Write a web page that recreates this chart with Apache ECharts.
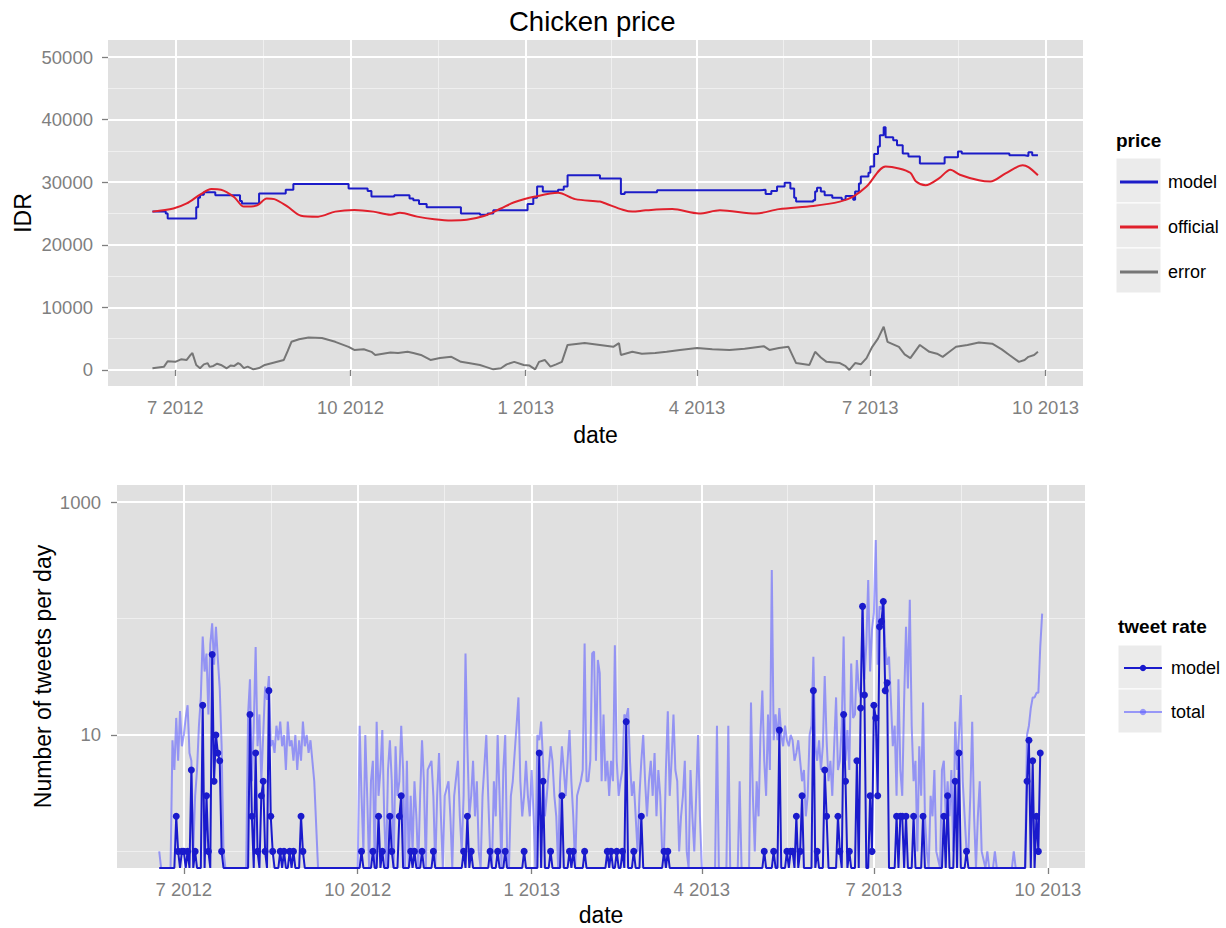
<!DOCTYPE html>
<html>
<head>
<meta charset="utf-8">
<script src="https://cdn.jsdelivr.net/npm/echarts@6/dist/echarts.min.js"></script>
<style>
html,body{margin:0;padding:0;background:#ffffff;}
#chart{width:1226px;height:928px;}
</style>
</head>
<body>
<div id="chart"></div>
<script>
// ---------------- data ----------------
const quarterBreaks = ['2012-07-01','2012-10-01','2013-01-01','2013-04-01','2013-07-01','2013-10-01'];
const quarterMinorBreaks = ['2012-08-16','2012-11-16','2013-02-15','2013-05-16','2013-08-16'];
const priceTicks = [0, 10000, 20000, 30000, 40000, 50000];
const priceMinorTicks = [5000, 15000, 25000, 35000, 45000];
const tweetTicks = [10, 1000];
const tweetMinorTicks = [1, 100];
const priceLegend = ['model', 'official', 'error'];
const tweetLegend = ['model', 'total'];

// model price (step changes: new level from the given date)
const modelPrice = [
['2012-06-19',25300],['2012-06-26',25000],['2012-06-27',24200],['2012-07-12',26000],['2012-07-13',27500],
['2012-07-14',28000],['2012-07-16',28400],['2012-07-22',27900],['2012-08-04',27000],['2012-08-05',26600],
['2012-08-14',28200],['2012-08-28',28800],['2012-09-01',29700],['2012-09-30',29000],['2012-10-10',28600],
['2012-10-12',27700],['2012-10-24',27900],['2012-11-01',27400],['2012-11-03',27100],['2012-11-06',26500],
['2012-11-10',26000],['2012-11-28',25000],['2012-12-08',24800],['2012-12-12',25000],['2012-12-15',25500],
['2013-01-02',26500],['2013-01-05',27500],['2013-01-07',29300],['2013-01-10',28500],['2013-01-18',28800],
['2013-01-21',29300],['2013-01-23',31100],['2013-02-09',30600],['2013-02-20',28100],['2013-02-22',28400],
['2013-03-11',28700],['2013-05-04',28800],['2013-05-07',28100],['2013-05-10',28600],['2013-05-13',29300],
['2013-05-17',29900],['2013-05-20',29000],['2013-05-22',27500],['2013-05-23',26900],['2013-06-01',27100],
['2013-06-02',28500],['2013-06-03',29100],['2013-06-05',28500],['2013-06-07',27900],['2013-06-11',27500],
['2013-06-16',27200],['2013-06-18',27800],['2013-06-22',27200],['2013-06-23',28500],['2013-06-25',29800],
['2013-06-26',30900],['2013-06-30',31500],['2013-07-01',32500],['2013-07-03',34500],['2013-07-05',35700],
['2013-07-06',37500],['2013-07-08',38800],['2013-07-09',37200],['2013-07-13',36700],['2013-07-15',35900],
['2013-07-18',34600],['2013-07-21',34100],['2013-07-27',33000],['2013-08-09',34000],['2013-08-16',34900],
['2013-08-18',34600],['2013-09-12',34300],['2013-09-20',34200],['2013-09-22',34800],['2013-09-24',34300],
['2013-09-27',34400]
];

const officialPrice = [
['2012-06-19',25300],['2012-06-30',25800],['2012-07-07',26600],['2012-07-14',28000],['2012-07-20',28900],
['2012-07-25',28800],['2012-08-01',27600],['2012-08-06',26100],['2012-08-13',26300],['2012-08-18',27400],
['2012-08-22',27300],['2012-08-29',26100],['2012-09-05',24650],['2012-09-14',24500],['2012-09-23',25300],
['2012-10-03',25560],['2012-10-13',25300],['2012-10-22',24800],['2012-10-27',25100],['2012-11-05',24500],
['2012-11-14',24100],['2012-11-23',23900],['2012-12-01',24000],['2012-12-10',24600],['2012-12-19',25800],
['2012-12-26',26800],['2013-01-06',27700],['2013-01-18',28300],['2013-01-27',27300],['2013-02-09',26900],
['2013-02-12',26600],['2013-02-21',25600],['2013-02-26',25300],['2013-03-05',25500],['2013-03-19',25700],
['2013-04-02',25000],['2013-04-13',25500],['2013-05-02',25000],['2013-05-14',25700],['2013-06-01',26200],
['2013-06-15',26900],['2013-06-22',27700],['2013-06-29',29300],['2013-07-09',32500],['2013-07-16',32200],
['2013-07-22',31500],['2013-07-25',30100],['2013-07-30',29500],['2013-08-06',30600],['2013-08-12',32000],
['2013-08-17',31200],['2013-08-27',30300],['2013-09-02',30100],['2013-09-10',31400],['2013-09-19',32700],
['2013-09-22',32400],['2013-09-27',31100]
];

const errorPrice = [
['2012-06-19',270],['2012-06-25',500],['2012-06-27',1400],['2012-07-01',1300],['2012-07-04',1700],
['2012-07-07',1600],['2012-07-09',2400],['2012-07-10',2700],['2012-07-12',800],['2012-07-14',270],
['2012-07-16',900],['2012-07-18',1100],['2012-07-19',500],['2012-07-21',650],['2012-07-23',1000],
['2012-07-25',800],['2012-07-28',270],['2012-07-30',700],['2012-08-01',650],['2012-08-03',1100],
['2012-08-04',950],['2012-08-06',300],['2012-08-08',530],['2012-08-11',100],['2012-08-14',300],
['2012-08-17',800],['2012-08-22',1200],['2012-08-27',1600],['2012-08-29',3000],['2012-08-31',4500],
['2012-09-04',4900],['2012-09-09',5200],['2012-09-16',5100],['2012-09-23',4500],['2012-09-30',3700],
['2012-10-03',3200],['2012-10-08',3300],['2012-10-12',2900],['2012-10-14',2400],['2012-10-18',2600],
['2012-10-22',2800],['2012-10-26',2700],['2012-10-31',2900],['2012-11-03',2700],['2012-11-07',2400],
['2012-11-12',1600],['2012-11-17',1900],['2012-11-23',2100],['2012-11-28',1300],['2012-12-02',1100],
['2012-12-08',800],['2012-12-11',500],['2012-12-15',100],['2012-12-19',270],['2012-12-22',900],
['2012-12-26',1300],['2012-12-31',800],['2013-01-03',700],['2013-01-06',100],['2013-01-08',1300],
['2013-01-11',1600],['2013-01-14',530],['2013-01-17',900],['2013-01-20',1300],['2013-01-23',4000],
['2013-02-01',4300],['2013-02-09',4000],['2013-02-16',3700],['2013-02-19',4300],['2013-02-20',2400],
['2013-02-26',2900],['2013-03-03',2600],['2013-03-10',2700],['2013-03-16',2900],['2013-03-23',3200],
['2013-04-01',3500],['2013-04-09',3300],['2013-04-18',3200],['2013-04-26',3400],['2013-05-06',3800],
['2013-05-09',3200],['2013-05-14',3500],['2013-05-19',3700],['2013-05-23',1100],['2013-05-30',800],
['2013-06-02',2900],['2013-06-05',2000],['2013-06-08',1300],['2013-06-15',1100],['2013-06-18',600],
['2013-06-20',0],['2013-06-23',1100],['2013-06-26',900],['2013-06-29',1900],['2013-07-02',3700],
['2013-07-05',5000],['2013-07-08',6900],['2013-07-10',4500],['2013-07-13',4100],['2013-07-16',3700],
['2013-07-19',2500],['2013-07-22',1900],['2013-07-27',4000],['2013-08-01',2900],['2013-08-05',2600],
['2013-08-08',2100],['2013-08-11',2800],['2013-08-15',3700],['2013-08-21',4000],['2013-08-27',4400],
['2013-09-03',4200],['2013-09-08',3300],['2013-09-12',2400],['2013-09-17',1300],['2013-09-20',1600],
['2013-09-22',2100],['2013-09-25',2400],['2013-09-27',2900]
];

// tweets per day, model: days with a non-zero count (all other days in the range are 0)
const tweetModelRange = ['2012-06-18', '2013-09-27'];
const tweetModelNonZero = [
['2012-06-27',2],['2012-06-28',1],['2012-06-30',1],['2012-07-01',1],['2012-07-03',1],['2012-07-05',5],
['2012-07-07',1],['2012-07-11',18],['2012-07-13',3],['2012-07-14',1],['2012-07-16',49],['2012-07-17',4],
['2012-07-18',10],['2012-07-19',7],['2012-07-20',6],['2012-07-21',1],
['2012-08-05',15],['2012-08-06',2],['2012-08-08',7],['2012-08-09',1],['2012-08-11',3],['2012-08-12',4],
['2012-08-13',1],['2012-08-15',24],['2012-08-16',2],['2012-08-17',1],['2012-08-21',1],['2012-08-23',1],
['2012-08-26',1],['2012-08-28',1],['2012-09-01',2],['2012-09-02',1],
['2012-10-03',1],['2012-10-09',1],['2012-10-12',2],['2012-10-14',1],['2012-10-18',2],['2012-10-19',1],
['2012-10-23',2],['2012-10-24',3],['2012-10-29',1],['2012-10-31',1],['2012-11-04',1],['2012-11-10',1],
['2012-11-26',1],['2012-11-28',2],['2012-11-30',1],['2012-12-10',1],['2012-12-14',1],['2012-12-18',1],
['2012-12-28',1],
['2013-01-05',7],['2013-01-07',4],['2013-01-11',1],['2013-01-17',3],['2013-01-21',1],['2013-01-23',1],
['2013-01-29',1],['2013-02-10',1],['2013-02-12',1],['2013-02-15',1],['2013-02-18',1],['2013-02-20',13],
['2013-02-24',1],['2013-02-28',2],['2013-03-12',1],['2013-03-14',1],
['2013-05-04',1],['2013-05-09',1],['2013-05-12',11],['2013-05-16',1],['2013-05-18',1],['2013-05-19',1],
['2013-05-21',2],['2013-05-23',1],['2013-05-24',3],['2013-05-30',24],['2013-06-01',1],['2013-06-05',5],
['2013-06-06',2],['2013-06-12',2],['2013-06-13',1],['2013-06-15',15],['2013-06-16',4],['2013-06-18',1],
['2013-06-22',6],['2013-06-24',17],['2013-06-25',127],['2013-06-26',22],['2013-06-29',3],['2013-06-30',1],
['2013-07-01',18],['2013-07-02',14],['2013-07-03',3],['2013-07-04',85],['2013-07-05',94],['2013-07-06',140],
['2013-07-07',24],['2013-07-08',28],['2013-07-13',2],['2013-07-15',2],['2013-07-16',2],['2013-07-18',2],
['2013-07-22',2],['2013-07-27',2],['2013-08-07',2],['2013-08-09',3],['2013-08-13',4],['2013-08-15',7],
['2013-08-19',1],['2013-09-20',4],['2013-09-21',9],['2013-09-23',6],['2013-09-25',2],['2013-09-26',1],
['2013-09-27',7]
];

// tweets per day, total
const tweetTotal = [
['2012-06-18',1],['2012-06-19',0],['2012-06-24',0],['2012-06-25',9],['2012-06-26',5],['2012-06-27',14],
['2012-06-28',6],['2012-06-29',16],['2012-06-30',8],['2012-07-01',10],['2012-07-02',14],['2012-07-03',18],
['2012-07-04',7],['2012-07-05',6],['2012-07-06',1],['2012-07-07',3],['2012-07-08',5],['2012-07-09',12],
['2012-07-10',21],['2012-07-11',70],['2012-07-12',35],['2012-07-13',50],['2012-07-14',15],['2012-07-15',60],
['2012-07-16',91],['2012-07-17',40],['2012-07-18',85],['2012-07-19',45],['2012-07-20',25],['2012-07-21',8],
['2012-07-22',1],['2012-07-23',0],['2012-08-03',0],['2012-08-04',15],['2012-08-05',30],['2012-08-06',4],
['2012-08-07',12],['2012-08-08',57],['2012-08-09',8],['2012-08-10',15],['2012-08-11',4],['2012-08-12',10],
['2012-08-13',26],['2012-08-14',20],['2012-08-15',32],['2012-08-16',8],['2012-08-17',9],['2012-08-18',7],
['2012-08-19',12],['2012-08-20',9],['2012-08-21',13],['2012-08-22',8],['2012-08-23',10],['2012-08-24',5],
['2012-08-25',13],['2012-08-26',8],['2012-08-27',9],['2012-08-28',6],['2012-08-29',10],['2012-08-30',5],
['2012-08-31',9],['2012-09-01',6],['2012-09-02',13],['2012-09-03',8],['2012-09-04',10],['2012-09-05',7],
['2012-09-06',9],['2012-09-07',6],['2012-09-08',4],['2012-09-10',0],['2012-10-01',0],
['2012-10-02',12],['2012-10-03',3],['2012-10-04',1],['2012-10-05',10],['2012-10-06',3],['2012-10-07',0],
['2012-10-08',4],['2012-10-09',6],['2012-10-10',0],['2012-10-11',13],['2012-10-12',3],['2012-10-13',5],
['2012-10-14',11],['2012-10-15',2],['2012-10-16',0],['2012-10-17',5],['2012-10-18',9],['2012-10-19',4],
['2012-10-20',0],['2012-10-21',8],['2012-10-22',3],['2012-10-23',4],['2012-10-24',12],['2012-10-25',5],
['2012-10-26',0],['2012-10-27',6],['2012-10-28',0],['2012-10-29',3],['2012-10-30',1],['2012-10-31',4],
['2012-11-01',2],['2012-11-02',0],['2012-11-03',3],['2012-11-04',9],['2012-11-05',4],['2012-11-06',0],
['2012-11-07',5],['2012-11-09',6],['2012-11-10',3],['2012-11-11',0],['2012-11-12',3],['2012-11-13',7],
['2012-11-14',2],['2012-11-15',0],['2012-11-16',3],['2012-11-18',4],['2012-11-19',2],['2012-11-20',0],
['2012-11-21',3],['2012-11-23',6],['2012-11-24',2],['2012-11-25',1],['2012-11-26',3],['2012-11-27',50],
['2012-11-28',8],['2012-11-29',2],['2012-11-30',3],['2012-12-01',6],['2012-12-02',2],['2012-12-03',4],
['2012-12-04',1],['2012-12-05',0],['2012-12-06',3],['2012-12-08',10],['2012-12-09',3],['2012-12-10',1],
['2012-12-11',0],['2012-12-12',4],['2012-12-13',2],['2012-12-14',10],['2012-12-15',3],['2012-12-16',0],
['2012-12-17',5],['2012-12-18',10],['2012-12-19',1],['2012-12-20',0],['2012-12-21',3],['2012-12-22',4],
['2012-12-23',7],['2012-12-24',12],['2012-12-25',21],['2012-12-26',4],['2012-12-27',2],['2012-12-28',3],
['2012-12-29',6],['2012-12-30',3],['2012-12-31',2],['2013-01-01',5],['2013-01-02',2],['2013-01-03',0],
['2013-01-04',10],['2013-01-05',9],['2013-01-06',13],['2013-01-07',6],['2013-01-08',2],['2013-01-09',3],
['2013-01-10',5],['2013-01-11',8],['2013-01-12',6],['2013-01-13',3],['2013-01-14',2],['2013-01-15',0],
['2013-01-16',4],['2013-01-17',8],['2013-01-18',5],['2013-01-19',3],['2013-01-20',6],['2013-01-21',11],
['2013-01-22',4],['2013-01-23',2],['2013-01-24',0],['2013-01-25',3],['2013-01-27',4],['2013-01-28',5],
['2013-01-29',61],['2013-01-30',4],['2013-01-31',4],['2013-02-01',6],['2013-02-02',50],['2013-02-03',52],
['2013-02-04',6],['2013-02-05',44],['2013-02-06',34],['2013-02-07',4],['2013-02-08',15],['2013-02-09',4],
['2013-02-10',6],['2013-02-11',3],['2013-02-12',6],['2013-02-13',4],['2013-02-14',59],['2013-02-15',6],
['2013-02-16',3],['2013-02-17',4],['2013-02-18',5],['2013-02-19',15],['2013-02-20',14],['2013-02-21',17],
['2013-02-22',6],['2013-02-23',3],['2013-02-24',4],['2013-02-25',2],['2013-02-26',1],['2013-02-27',3],
['2013-02-28',6],['2013-03-01',10],['2013-03-02',4],['2013-03-03',2],['2013-03-04',4],['2013-03-05',6],
['2013-03-06',3],['2013-03-07',7],['2013-03-08',2],['2013-03-09',5],['2013-03-10',3],['2013-03-11',1],
['2013-03-12',1],['2013-03-13',5],['2013-03-14',16],['2013-03-15',3],['2013-03-16',6],['2013-03-17',15],
['2013-03-18',5],['2013-03-19',4],['2013-03-20',1],['2013-03-21',2],['2013-03-22',3],['2013-03-23',6],
['2013-03-24',1],['2013-03-25',0],['2013-03-26',5],['2013-03-27',2],['2013-03-28',1],['2013-03-29',3],
['2013-03-30',10],['2013-03-31',2],['2013-04-01',0],['2013-04-08',0],['2013-04-09',12],['2013-04-10',0],
['2013-04-14',0],['2013-04-15',12],['2013-04-16',0],['2013-04-20',0],['2013-04-21',4],['2013-04-22',0],
['2013-04-26',0],['2013-04-27',19],['2013-04-28',3],['2013-04-29',1],['2013-04-30',4],['2013-05-01',2],
['2013-05-02',10],['2013-05-03',24],['2013-05-04',6],['2013-05-05',3],['2013-05-06',15],['2013-05-07',5],
['2013-05-08',261],['2013-05-09',9],['2013-05-10',15],['2013-05-11',9],['2013-05-12',17],['2013-05-13',10],
['2013-05-14',8],['2013-05-15',12],['2013-05-16',9],['2013-05-17',8],['2013-05-18',10],['2013-05-19',9],
['2013-05-20',6],['2013-05-21',7],['2013-05-22',9],['2013-05-23',6],['2013-05-24',4],['2013-05-25',5],
['2013-05-26',2],['2013-05-27',3],['2013-05-28',10],['2013-05-29',12],['2013-05-30',47],['2013-05-31',8],
['2013-06-01',6],['2013-06-02',9],['2013-06-03',5],['2013-06-04',8],['2013-06-05',32],['2013-06-06',9],
['2013-06-07',4],['2013-06-08',6],['2013-06-09',3],['2013-06-10',8],['2013-06-11',21],['2013-06-12',5],
['2013-06-13',6],['2013-06-14',12],['2013-06-15',70],['2013-06-16',6],['2013-06-17',11],['2013-06-18',5],
['2013-06-19',41],['2013-06-20',14],['2013-06-21',15],['2013-06-22',44],['2013-06-23',25],['2013-06-24',21],
['2013-06-25',130],['2013-06-26',30],['2013-06-27',60],['2013-06-28',214],['2013-06-29',35],['2013-06-30',80],
['2013-07-01',111],['2013-07-02',472],['2013-07-03',40],['2013-07-04',127],['2013-07-05',120],['2013-07-06',150],
['2013-07-07',57],['2013-07-08',40],['2013-07-09',47],['2013-07-10',20],['2013-07-11',8],['2013-07-12',12],
['2013-07-13',3],['2013-07-14',30],['2013-07-15',5],['2013-07-16',3],['2013-07-17',20],['2013-07-18',85],
['2013-07-19',25],['2013-07-20',145],['2013-07-21',12],['2013-07-22',4],['2013-07-23',6],['2013-07-24',1],
['2013-07-25',8],['2013-07-26',3],['2013-07-27',19],['2013-07-28',2],['2013-07-29',1],['2013-07-30',0],
['2013-07-31',3],['2013-08-01',2],['2013-08-02',5],['2013-08-03',1],['2013-08-05',0],['2013-08-06',5],
['2013-08-07',6],['2013-08-08',2],['2013-08-09',4],['2013-08-10',2],['2013-08-11',5],['2013-08-12',1],
['2013-08-13',13],['2013-08-14',5],['2013-08-15',10],['2013-08-16',22],['2013-08-17',4],['2013-08-18',2],
['2013-08-19',1],['2013-08-20',1],['2013-08-21',3],['2013-08-22',13],['2013-08-23',2],['2013-08-24',0],
['2013-08-25',2],['2013-08-26',4],['2013-08-27',1],['2013-08-29',0],['2013-08-30',1],['2013-08-31',0],
['2013-09-02',0],['2013-09-03',1],['2013-09-04',0],['2013-09-12',0],['2013-09-13',1],['2013-09-14',0],
['2013-09-19',0],['2013-09-20',10],['2013-09-21',12],['2013-09-22',17],['2013-09-23',21],['2013-09-24',21],
['2013-09-25',23],['2013-09-26',23],['2013-09-27',57],['2013-09-28',110]
];

// ---------------- helpers & styles ----------------
const FONT = '"Liberation Sans", Arial, Helvetica, sans-serif';
const PANEL = '#e0e0e0', MAJOR = '#ffffff', MINOR = '#efefef', TICKC = '#7f7f7f', LABELC = '#7f7f7f';
const COL_MODEL = '#1c1cc8', COL_OFFICIAL = '#e0202c', COL_ERROR = '#767676';
const COL_TMODEL = '#1a1acc', COL_TTOTAL = 'rgba(95,95,255,0.6)';

function toTime(s) { const p = s.split('-').map(Number); return new Date(p[0], p[1] - 1, p[2]).getTime(); }
const X_MIN = new Date(2012, 4, 26, 16).getTime();
const X_MAX = new Date(2013, 9, 20, 16).getTime();
const P_MIN = -2560, P_MAX = 52720;
const T_MIN = 0.72, T_MAX = 1400;   // log axis range; days with 0 tweets sit on the panel floor
const toPairs = arr => arr.map(([d, v]) => [toTime(d), v]);
const floorZero = arr => arr.map(([t, v]) => [t, v > 0 ? v : T_MIN]);

// expand sparse model counts into a daily series (unlisted days are 0)
function dailyFromSparse(range, sparse) {
  const map = {};
  sparse.forEach(([d, v]) => { map[toTime(d)] = v; });
  const out = [];
  const s = range[0].split('-').map(Number);
  const end = toTime(range[1]);
  for (let i = 0; ; i++) {
    const t = new Date(s[0], s[1] - 1, s[2] + i).getTime();
    if (t > end) break;
    out.push([t, map[t] || 0]);
  }
  return out;
}
const fmtQuarter = v => { const d = new Date(v); return (d.getMonth() + 1) + ' ' + d.getFullYear(); };

function xAxisDef(grid, breaks, major, nameGap) {
  const vals = breaks.map(toTime);
  return {
    type: 'value', gridIndex: grid, min: X_MIN, max: X_MAX, z: major ? 2 : 1,
    position: 'bottom',
    axisLine: { show: false },
    axisTick: { show: major, customValues: vals, length: 6, lineStyle: { color: TICKC, width: 1.3 } },
    axisLabel: { show: major, customValues: vals, formatter: fmtQuarter, color: LABELC, fontSize: 18.5,
                 fontFamily: FONT, margin: 12, hideOverlap: false },
    splitLine: { show: true, lineStyle: { color: major ? MAJOR : MINOR, width: major ? 2 : 1 } },
    minorTick: { show: false }, minorSplitLine: { show: false },
    name: major ? 'date' : '', nameLocation: 'middle', nameGap: nameGap, nameMoveOverlap: false,
    nameTextStyle: { fontSize: 23, color: '#000', fontFamily: FONT }
  };
}
function yAxisDef(grid, type, min, max, ticks, major, name, nameGap, margin) {
  return {
    type: type, logBase: 10, gridIndex: grid, min: min, max: max, z: major ? 2 : 1,
    position: 'left',
    axisLine: { show: false },
    axisTick: { show: major, customValues: ticks, length: 6, lineStyle: { color: TICKC, width: 1.3 } },
    axisLabel: { show: major, customValues: ticks, color: LABELC, fontSize: 18.5, fontFamily: FONT,
                 margin: margin, formatter: v => String(Math.round(v)) },
    splitLine: { show: true, lineStyle: { color: major ? MAJOR : MINOR, width: major ? 2 : 1 } },
    minorTick: { show: false }, minorSplitLine: { show: false },
    name: major ? name : '', nameLocation: 'middle', nameGap: nameGap, nameMoveOverlap: false,
    nameTextStyle: { fontSize: 23, color: '#000', fontFamily: FONT }
  };
}

const chart = echarts.init(document.getElementById('chart'), null, { renderer: 'svg', width: 1226, height: 928 });

const keyRect = (x, y, w, h) => ({ type: 'rect', silent: true, z: 0,
  shape: { x: x, y: y, width: w, height: h }, style: { fill: '#ebebeb', stroke: '#ffffff', lineWidth: 1 } });

const option = {
  animation: false,
  backgroundColor: '#ffffff',
  textStyle: { fontFamily: FONT },
  title: [
    { text: 'Chicken price', left: 509, top: 7, padding: 0,
      textStyle: { fontSize: 27.5, fontWeight: 'normal', color: '#000', fontFamily: FONT } },
    { text: 'price', left: 1116, top: 131, padding: 0,
      textStyle: { fontSize: 19, fontWeight: 'bold', color: '#000', fontFamily: FONT } },
    { text: 'tweet rate', left: 1118, top: 617, padding: 0,
      textStyle: { fontSize: 19, fontWeight: 'bold', color: '#000', fontFamily: FONT } }
  ],
  grid: [
    { left: 108, top: 40, width: 975, height: 346, show: true, backgroundColor: PANEL, borderWidth: 0,
      containLabel: false, outerBoundsMode: 'none' },
    { left: 117, top: 485, width: 968, height: 383, show: true, backgroundColor: PANEL, borderWidth: 0,
      containLabel: false, outerBoundsMode: 'none' }
  ],
  xAxis: [
    xAxisDef(0, quarterBreaks, true, 37),
    xAxisDef(0, quarterMinorBreaks, false, 0),
    xAxisDef(1, quarterBreaks, true, 35),
    xAxisDef(1, quarterMinorBreaks, false, 0)
  ],
  yAxis: [
    yAxisDef(0, 'value', P_MIN, P_MAX, priceTicks, true, 'IDR', 74, 15),
    yAxisDef(0, 'value', P_MIN, P_MAX, priceMinorTicks, false, '', 0, 15),
    yAxisDef(1, 'log', T_MIN, T_MAX, tweetTicks, true, 'Number of tweets per day', 63, 16),
    yAxisDef(1, 'log', T_MIN, T_MAX, tweetMinorTicks, false, '', 0, 16)
  ],
  legend: [
    { data: priceLegend.map(n => ({ name: n, icon: 'rect' })), orient: 'vertical', left: 1120, top: 159.5,
      itemWidth: 38, itemHeight: 3, itemGap: 0, padding: 0, selectedMode: false,
      textStyle: { fontSize: 18, color: '#000', fontFamily: FONT, lineHeight: 45, padding: [0, 0, 0, 5] } },
    { data: tweetLegend.map(n => 'tweet rate: ' + n), orient: 'vertical', left: 1123, top: 646,
      itemWidth: 38, itemHeight: 8, itemGap: 0, padding: 0, selectedMode: false,
      formatter: n => n.replace('tweet rate: ', ''),
      textStyle: { fontSize: 18, color: '#000', fontFamily: FONT, lineHeight: 44, padding: [0, 0, 0, 4] } }
  ],
  graphic: [
    keyRect(1116, 158, 45, 45), keyRect(1116, 203, 45, 45), keyRect(1116, 248, 45, 45),
    keyRect(1118, 645, 44, 44), keyRect(1118, 689, 44, 44)
  ],
  series: [
    { name: priceLegend[0], type: 'line', xAxisIndex: 0, yAxisIndex: 0, step: 'end', symbol: 'none',
      data: toPairs(modelPrice), lineStyle: { color: COL_MODEL, width: 2 }, itemStyle: { color: COL_MODEL },
      emphasis: { disabled: true }, z: 3 },
    { name: priceLegend[1], type: 'line', xAxisIndex: 0, yAxisIndex: 0, symbol: 'none', smooth: 0.3,
      data: toPairs(officialPrice), lineStyle: { color: COL_OFFICIAL, width: 2 }, itemStyle: { color: COL_OFFICIAL },
      emphasis: { disabled: true }, z: 3 },
    { name: priceLegend[2], type: 'line', xAxisIndex: 0, yAxisIndex: 0, symbol: 'none',
      data: toPairs(errorPrice), lineStyle: { color: COL_ERROR, width: 2 }, itemStyle: { color: COL_ERROR },
      emphasis: { disabled: true }, z: 3 },
    { name: 'tweet rate: ' + tweetLegend[1], type: 'line', xAxisIndex: 2, yAxisIndex: 2, symbol: 'circle',
      showSymbol: false, data: floorZero(toPairs(tweetTotal)),
      lineStyle: { color: COL_TTOTAL, width: 2 }, itemStyle: { color: COL_TTOTAL },
      emphasis: { disabled: true }, z: 3 },
    { name: 'tweet rate: ' + tweetLegend[0], type: 'line', xAxisIndex: 2, yAxisIndex: 2, symbol: 'circle',
      symbolSize: v => (v[1] > T_MIN ? 7 : 0),
      data: floorZero(dailyFromSparse(tweetModelRange, tweetModelNonZero)),
      lineStyle: { color: COL_TMODEL, width: 2 }, itemStyle: { color: COL_TMODEL },
      emphasis: { disabled: true }, z: 4 }
  ]
};
chart.setOption(option);
</script>
</body>
</html>
